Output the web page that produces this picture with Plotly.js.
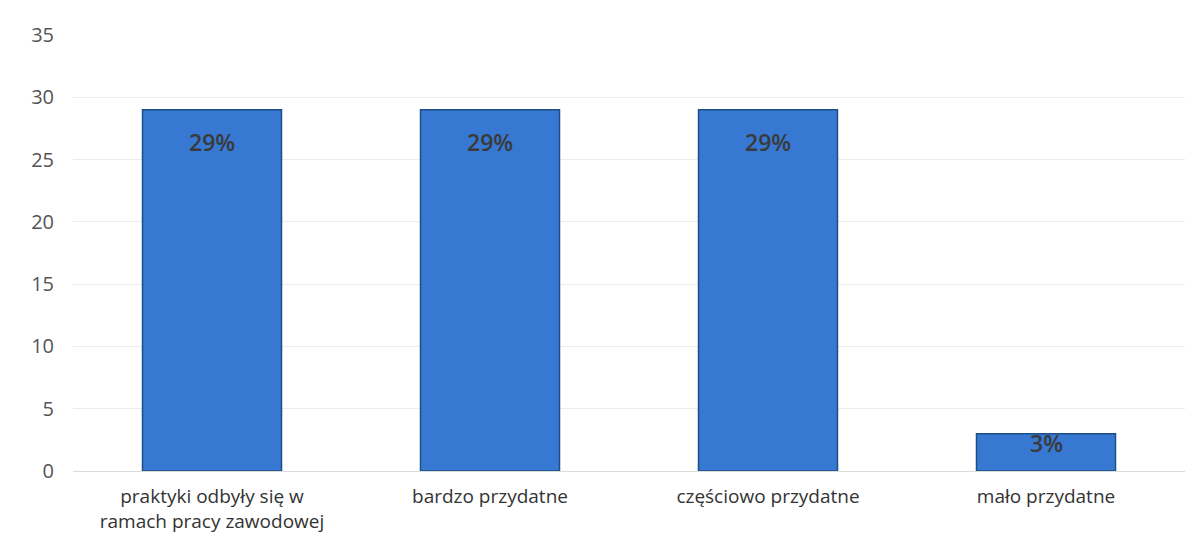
<!DOCTYPE html>
<html><head><meta charset="utf-8">
<script src="https://cdn.plot.ly/plotly-3.0.1.min.js"></script>
<style>body{margin:0;background:#fff}#c{width:1201px;height:557px}</style>
</head><body><div id="c"></div>
<script>
const categories = ["praktyki odbyły się w<br>ramach pracy zawodowej", "bardzo przydatne", "częściowo przydatne", "mało przydatne"];
const values = [29, 29, 29, 3];
const labels = ["29%", "29%", "29%", "3%"];
const yTicks = [0, 5, 10, 15, 20, 25, 30, 35];

const trace = {
  type: 'bar', x: categories, y: values,
  marker: {color: '#3779d2', line: {color: '#1d4f86', width: 1.5}},
  width: 0.5, hoverinfo: 'none'
};
const annotations = categories.map((c, i) => ({
  x: c, y: values[i], xref: 'x', yref: 'y', text: labels[i], showarrow: false,
  yanchor: 'middle', yshift: values[i] > 5 ? -32 : -9,
  font: {family: 'Open Sans, Liberation Sans, Arial', size: 23, color: '#3a3a3a', weight: 600}
}));
Plotly.newPlot('c', [trace], {
  width: 1201, height: 557,
  margin: {l: 73, r: 16, t: 35, b: 86},
  paper_bgcolor: '#fff', plot_bgcolor: '#fff',
  showlegend: false,
  font: {family: 'Open Sans, Liberation Sans, Arial', color: '#404040'},
  xaxis: {tickfont: {size: 19, color: '#333'}, showgrid: false, showline: false, ticks: '', ticklabelstandoff: 12, automargin: false},
  yaxis: {range: [0, 35], tickvals: yTicks, tickfont: {size: 20, color: '#555'},
    gridcolor: '#ececec', zeroline: true, zerolinecolor: '#dcdcdc', ticklen: 0, ticks: '', ticklabelstandoff: 18, automargin: false},
  annotations: annotations
}, {displayModeBar: false, staticPlot: true});
</script></body></html>
